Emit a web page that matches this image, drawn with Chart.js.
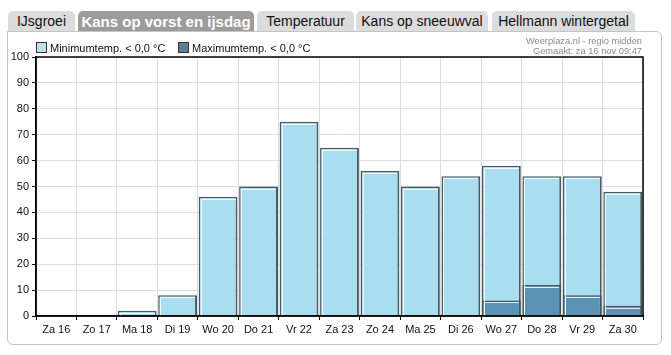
<!DOCTYPE html>
<html><head><meta charset="utf-8">
<script src="https://cdn.jsdelivr.net/npm/chart.js@4/dist/chart.umd.min.js"></script>
<style>
body{margin:0;background:#fff;font-family:"Liberation Sans",Arial,sans-serif;}
#wrap{position:relative;width:671px;height:355px;overflow:hidden;}
.tab{position:absolute;top:11px;height:20px;background:#dcdcdc;border-radius:5px 5px 0 0;font-size:14px;line-height:21px;text-align:center;color:#111;}
.tab.act{background:#9c9c9c;color:#fff;font-weight:bold;font-size:15px;}
#panel{position:absolute;left:7px;top:31px;width:653px;height:312px;border:1px solid #c4c4c4;border-radius:0 6px 6px 6px;}
#cv{position:absolute;left:9px;top:32px;}
.cred{position:absolute;right:29px;font-size:9.3px;line-height:10px;color:#8a8a8a;text-align:right;}
.leg{position:absolute;top:42px;font-size:11px;color:#111;}
.leg span{display:inline-block;width:9px;height:9px;border:1px solid #333;margin-right:3px;vertical-align:-1px;}
</style></head><body>
<div id="wrap">
<div id="panel"></div>
<div class="tab" style="left:8px;width:67px">IJsgroei</div>
<div class="tab act" style="left:78px;width:176px">Kans op vorst en ijsdag</div>
<div class="tab" style="left:257px;width:97px">Temperatuur</div>
<div class="tab" style="left:356px;width:132px">Kans op sneeuwval</div>
<div class="tab" style="left:492px;width:143px">Hellmann wintergetal</div>
<canvas id="cv" width="652" height="312"></canvas>
<div class="leg" style="left:36px"><span style="background:#bfe0ea"></span>Minimumtemp. &lt; 0,0 °C</div>
<div class="leg" style="left:178px"><span style="background:#5f7f91"></span>Maximumtemp. &lt; 0,0 °C</div>
<div class="cred" style="top:36px">Weerplaza.nl - regio midden</div>
<div class="cred" style="top:46px">Gemaakt: za 16 nov 09:47</div>
</div>
<script>
const categories = ["Za 16","Zo 17","Ma 18","Di 19","Wo 20","Do 21","Vr 22","Za 23","Zo 24","Ma 25","Di 26","Wo 27","Do 28","Vr 29","Za 30"];
const minTempBelowZero = [0,0,2,8,46,50,75,65,56,50,54,58,54,54,48];
const maxTempBelowZero = [0,0,0,0,0,0,0,0,0,0,0,6,12,8,4];
const yTicks = [0,10,20,30,40,50,60,70,80,90,100];

const frame = {
  id:'frame',
  afterDatasetsDraw(c){
    const a=c.chartArea, x=c.ctx;
    x.save();
    x.strokeStyle='rgba(255,255,255,0.85)';x.lineWidth=1;
    c.data.datasets.forEach((ds,i)=>{
      c.getDatasetMeta(i).data.forEach((b,j)=>{
        if(!ds.data[j]) return;
        const l=b.x-b.width/2, t=b.y;
        x.beginPath();
        x.moveTo(Math.round(l)+2.5, b.base);
        x.lineTo(Math.round(l)+2.5, Math.round(t)+2.5);
        x.lineTo(Math.round(l+b.width)-2, Math.round(t)+2.5);
        x.stroke();
      });
    });
    x.strokeStyle='#000';x.lineWidth=1.5;
    x.strokeRect(a.left,a.top,a.right-a.left,a.bottom-a.top);
    x.restore();
  }
};
new Chart(document.getElementById('cv'),{
  type:'bar',
  data:{labels:categories,datasets:[
    {label:'Maximumtemp. < 0,0 °C',data:maxTempBelowZero,backgroundColor:'#5b93b4',borderColor:'#3e5563',borderWidth:{top:1.5,left:1.5,right:2,bottom:0},order:1},
    {label:'Minimumtemp. < 0,0 °C',data:minTempBelowZero,backgroundColor:'#a9def1',borderColor:'#4a5a63',borderWidth:{top:1.5,left:1.5,right:2,bottom:0},order:2}
  ]},
  options:{
    responsive:false,animation:false,
    layout:{padding:{top:25,right:18,left:0,bottom:0}},
    plugins:{legend:{display:false},tooltip:{enabled:false}},
    datasets:{bar:{barPercentage:1,categoryPercentage:0.96}},
    scales:{
      x:{stacked:true,
        grid:{color:'#dddddd',tickColor:'#000',tickLength:4,offset:true},
        border:{color:'#000',width:1.5},
        ticks:{color:'#111',font:{family:'Liberation Sans',size:11},padding:3,maxRotation:0,autoSkip:false},
        afterFit(s){s.height=28;}
      },
      y:{stacked:false,min:0,max:100,
        afterBuildTicks(s){s.ticks=yTicks.map(v=>({value:v}));},
        grid:{color:'#dddddd',tickColor:'#000',tickLength:4},
        border:{color:'#000',width:1.5},
        ticks:{color:'#111',font:{family:'Liberation Sans',size:11},padding:3},
        afterFit(s){s.width=27;}
      }
    }
  },
  plugins:[frame]
});
</script>
</body></html>
